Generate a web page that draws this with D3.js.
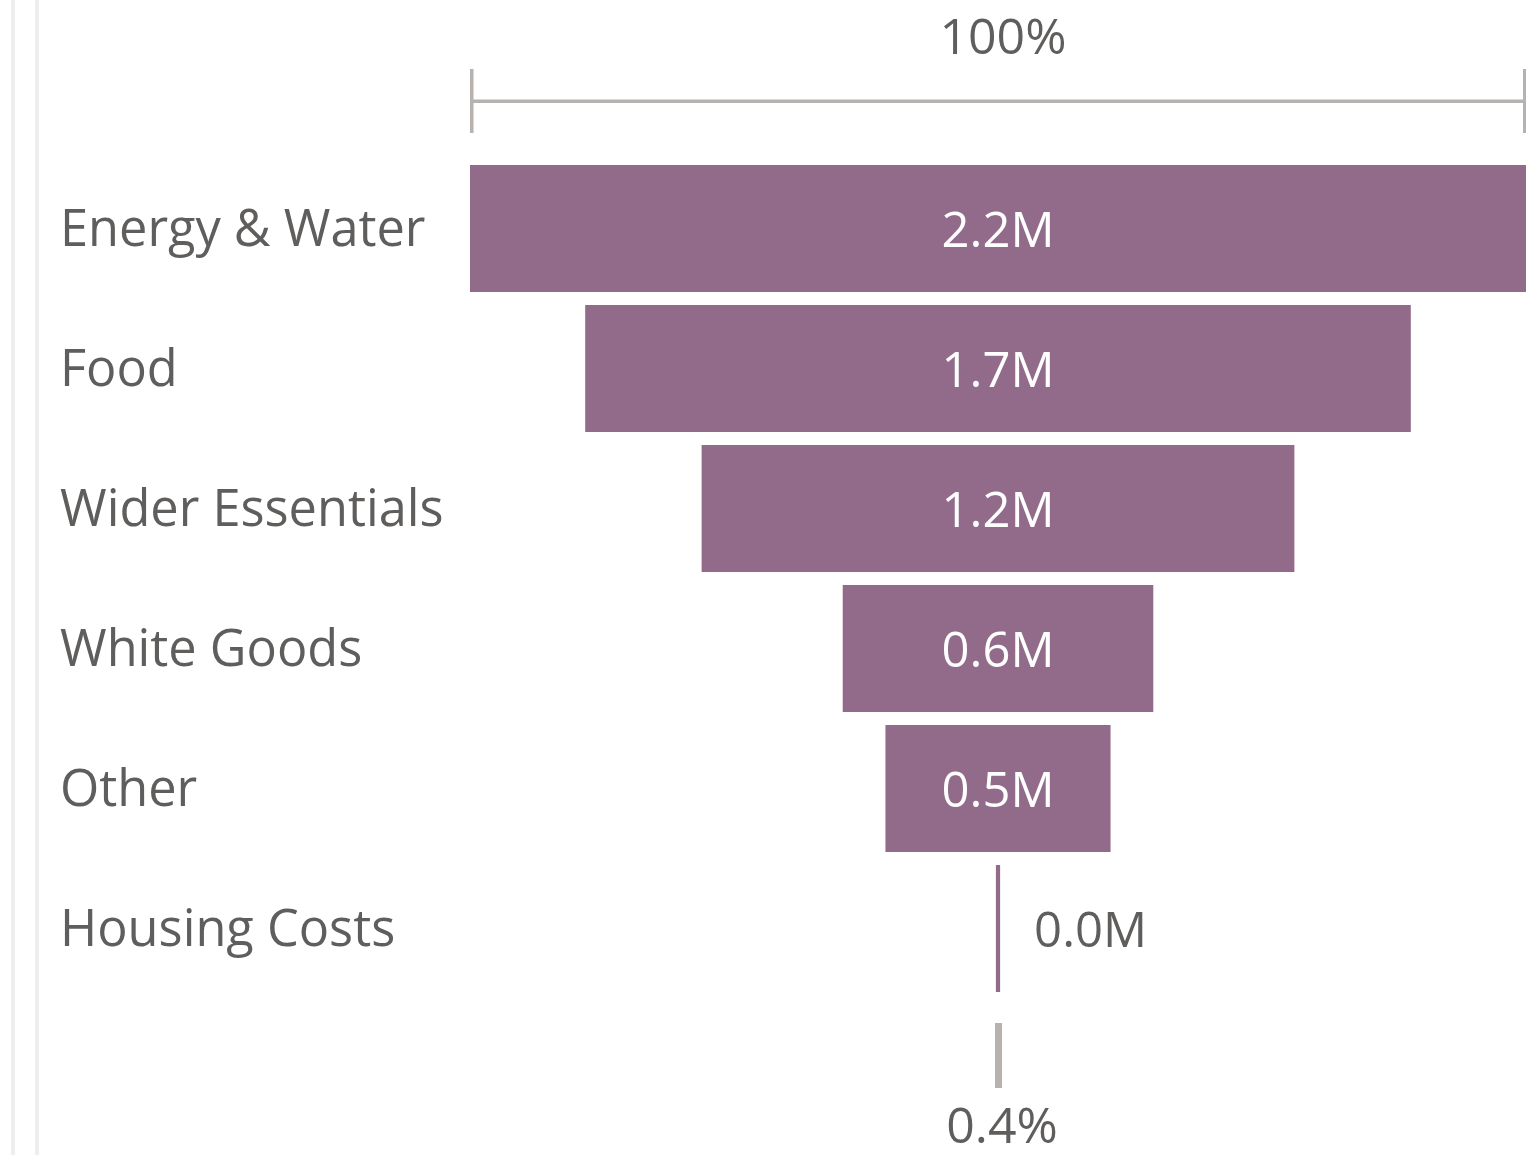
<!DOCTYPE html>
<html>
<head>
<meta charset="utf-8">
<script src="https://cdn.jsdelivr.net/npm/d3@7"></script>
<style>
  html, body { margin: 0; padding: 0; background: #ffffff; }
  svg { display: block; }
  text { font-family: "Segoe UI", "Open Sans", "Noto Sans", sans-serif; }
</style>
</head>
<body>
<svg id="chart" width="1526" height="1155"></svg>
<script>
// Spending categories, in funnel order
const categories = ["Energy & Water", "Food", "Wider Essentials", "White Goods", "Other", "Housing Costs"];
// Amounts in millions
const values = [2.2, 1.72, 1.235, 0.647, 0.469, 0.0088];

const W = 1526, H = 1155;
const svg = d3.select("#chart");

const barColor = "#926b8b";
const textColor = "#605e5c";
const guideColor = "#b5b2af";

const centerX = 998;
const fullWidth = 1056;

// Bar width scale: the first stage spans the full funnel width
const x = d3.scaleLinear().domain([0, d3.max(values)]).range([0, fullWidth]);

// Rows
const y = d3.scaleBand()
  .domain(categories)
  .range([158.5, 998.5])
  .paddingInner(13 / 140)
  .paddingOuter(13 / 280);

const fmtM = v => d3.format(".1f")(v) + "M";
const fmtPct = d3.format(".1%");
const fmtPct0 = d3.format(".0%");

// Faint vertical rules along the left edge
svg.selectAll("rect.rule").data([11, 35]).enter().append("rect")
  .attr("class", "rule")
  .attr("x", d => d).attr("y", 0)
  .attr("width", 4).attr("height", H)
  .attr("fill", "#efeeed");

// Top scale marker showing the 100% width
const scaleX0 = centerX - x(values[0]) / 2;
const scaleX1 = centerX + x(values[0]) / 2;
const scaleG = svg.append("g");
scaleG.append("rect").attr("x", scaleX0).attr("y", 99.5).attr("width", scaleX1 - scaleX0).attr("height", 3.5).attr("fill", guideColor);
scaleG.append("rect").attr("x", scaleX0).attr("y", 69).attr("width", 3.5).attr("height", 64).attr("fill", guideColor);
scaleG.append("rect").attr("x", scaleX1 - 3).attr("y", 69).attr("width", 3).attr("height", 64).attr("fill", guideColor);
scaleG.append("text")
  .attr("x", centerX + 5).attr("y", 54)
  .attr("text-anchor", "middle")
  .attr("font-size", 50)
  .attr("fill", textColor)
  .text(fmtPct0(values[0] / values[0]));

// Category labels
svg.selectAll("text.cat").data(categories).enter().append("text")
  .attr("class", "cat")
  .attr("x", 60)
  .attr("y", d => y(d) + y.bandwidth() / 2 + 17)
  .attr("font-size", 50.5)
  .attr("fill", textColor)
  .text(d => d);

// Funnel bars
const rows = categories.map((c, i) => ({ c, v: values[i] }));
svg.selectAll("rect.bar").data(rows).enter().append("rect")
  .attr("class", "bar")
  .attr("x", d => centerX - x(d.v) / 2)
  .attr("y", d => y(d.c))
  .attr("width", d => Math.max(x(d.v), 0))
  .attr("height", y.bandwidth())
  .attr("fill", barColor);

// Value labels: inside wide bars, to the right of narrow ones
svg.selectAll("text.val").data(rows).enter().append("text")
  .attr("class", "val")
  .attr("x", d => x(d.v) > 150 ? centerX : centerX + x(d.v) / 2 + 34)
  .attr("y", d => y(d.c) + y.bandwidth() / 2 + 18)
  .attr("text-anchor", d => x(d.v) > 150 ? "middle" : "start")
  .attr("font-size", 49)
  .attr("fill", d => x(d.v) > 150 ? "#ffffff" : textColor)
  .text(d => fmtM(d.v));

// Bottom marker: last stage as a share of the first
const lastShare = values[values.length - 1] / values[0];
svg.append("rect")
  .attr("x", centerX - 3).attr("y", 1023)
  .attr("width", 7).attr("height", 65)
  .attr("fill", guideColor);
svg.append("text")
  .attr("x", centerX + 4).attr("y", 1143)
  .attr("text-anchor", "middle")
  .attr("font-size", 50)
  .attr("fill", textColor)
  .text(fmtPct(lastShare));
</script>
</body>
</html>
